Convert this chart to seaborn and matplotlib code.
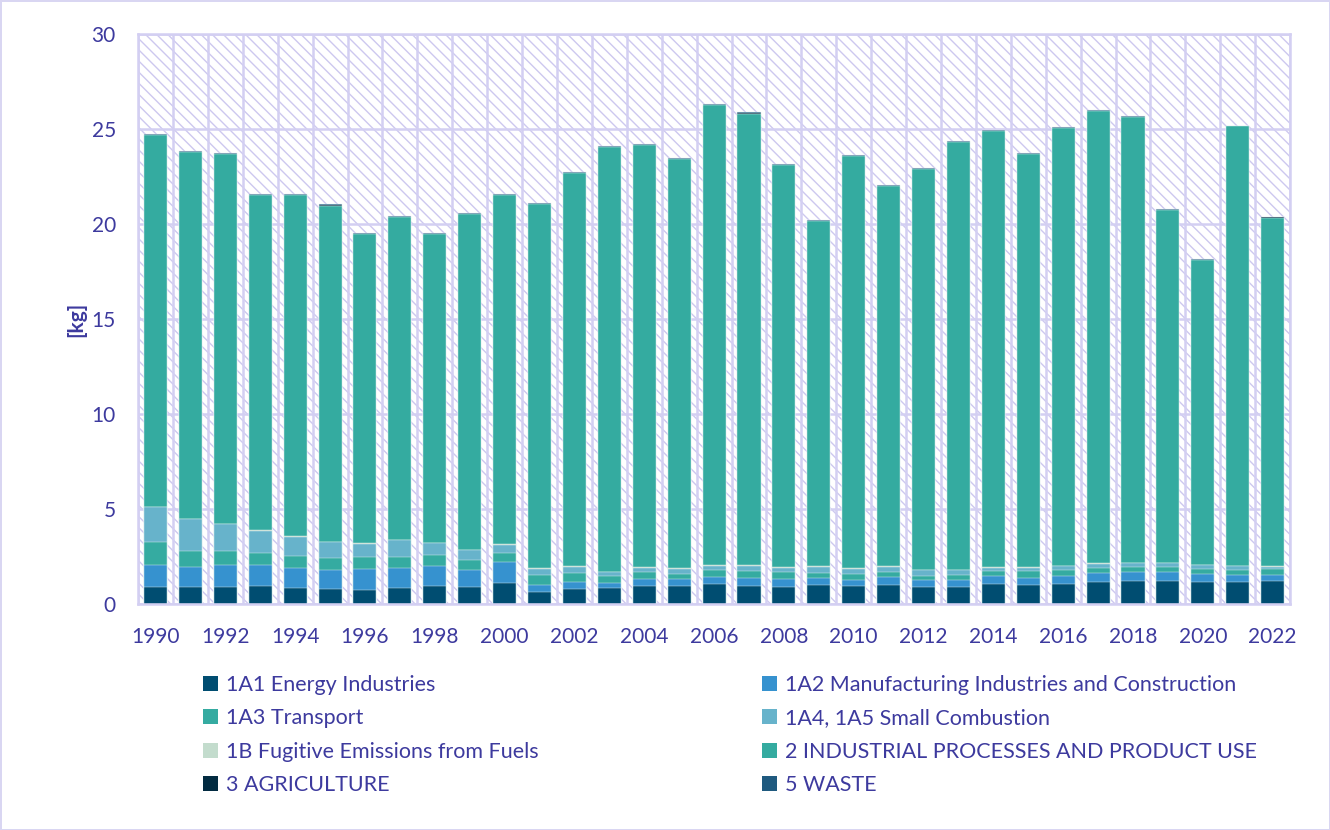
import numpy as np
import pandas as pd
import matplotlib
matplotlib.use("Agg")
import matplotlib.pyplot as plt
from matplotlib.patches import Patch, Rectangle
import seaborn as sns

# years on the x axis
years = list(range(1990, 2023))

# emissions per sector [kg]
e_1a1 = [0.91, 0.91, 0.91, 0.96, 0.86, 0.80, 0.77, 0.86, 0.96, 0.92, 1.12,
         0.66, 0.82, 0.86, 0.96, 0.96, 1.06, 0.96, 0.91, 1.01, 0.96, 1.01,
         0.91, 0.91, 1.06, 1.01, 1.10, 1.17, 1.24, 1.22, 1.19, 1.17, 1.22]
e_1a2 = [1.17, 1.06, 1.15, 1.10, 1.06, 1.01, 1.08, 1.06, 1.06, 0.92, 1.12,
         0.38, 0.37, 0.28, 0.37, 0.37, 0.40, 0.42, 0.45, 0.37, 0.33, 0.44,
         0.37, 0.37, 0.42, 0.40, 0.40, 0.47, 0.45, 0.47, 0.44, 0.37, 0.35]
e_1a3 = [1.20, 0.87, 0.75, 0.63, 0.61, 0.66, 0.63, 0.56, 0.56, 0.51, 0.49,
         0.49, 0.47, 0.38, 0.37, 0.30, 0.35, 0.37, 0.33, 0.26, 0.30, 0.24,
         0.21, 0.26, 0.26, 0.33, 0.31, 0.28, 0.26, 0.26, 0.24, 0.30, 0.28]
e_1a4 = [1.85, 1.66, 1.43, 1.19, 1.03, 0.82, 0.72, 0.91, 0.66, 0.52, 0.42,
         0.35, 0.33, 0.19, 0.24, 0.26, 0.23, 0.30, 0.24, 0.35, 0.30, 0.30,
         0.30, 0.28, 0.19, 0.19, 0.21, 0.23, 0.21, 0.21, 0.19, 0.16, 0.14]
e_1b = [0.02, 0.02, 0.02, 0.02, 0.02, 0.02, 0.02, 0.02, 0.02, 0.02, 0.02,
        0.02, 0.02, 0.02, 0.02, 0.02, 0.02, 0.02, 0.02, 0.02, 0.02, 0.02,
        0.02, 0.02, 0.02, 0.02, 0.02, 0.02, 0.02, 0.02, 0.02, 0.02, 0.02]
e_2 = [19.53, 19.28, 19.45, 17.65, 17.96, 17.68, 16.25, 16.99, 16.24, 17.66, 18.35,
       19.18, 20.68, 22.35, 22.21, 21.52, 24.23, 23.76, 21.18, 18.16, 21.68, 20.00,
       21.08, 22.47, 22.95, 21.74, 23.04, 23.77, 23.48, 18.57, 16.06, 23.13, 18.35]
e_3 = [0.01, 0.01, 0.01, 0.01, 0.01, 0.01, 0.01, 0.01, 0.01, 0.01, 0.01,
       0.01, 0.01, 0.01, 0.01, 0.01, 0.01, 0.01, 0.01, 0.01, 0.01, 0.01,
       0.01, 0.01, 0.01, 0.01, 0.01, 0.01, 0.01, 0.01, 0.01, 0.01, 0.01]
e_5 = [0.05, 0.05, 0.05, 0.05, 0.05, 0.05, 0.05, 0.05, 0.05, 0.05, 0.05,
       0.05, 0.05, 0.05, 0.05, 0.05, 0.05, 0.05, 0.05, 0.04, 0.04, 0.04,
       0.04, 0.04, 0.04, 0.04, 0.04, 0.04, 0.04, 0.04, 0.04, 0.04, 0.04]

labels = ["1A1 Energy Industries", "1A2 Manufacturing Industries and Construction",
          "1A3 Transport", "1A4, 1A5 Small Combustion",
          "1B Fugitive Emissions from Fuels", "2 INDUSTRIAL PROCESSES AND PRODUCT USE",
          "3 AGRICULTURE", "5 WASTE"]
series = [e_1a1, e_1a2, e_1a3, e_1a4, e_1b, e_2, e_3, e_5]
colors = ["#004d71", "#3692cf", "#35aba1", "#67b3cb",
          "#c3dccd", "#34aba0", "#022b41", "#1f5a7f"]

txt = "#3d3a9e"
grid_c = "#d3cff2"

sns.set_theme(style="white")
plt.rcParams["font.family"] = ["Lato", "DejaVu Sans"]
plt.rcParams["hatch.linewidth"] = 1.0

df = pd.DataFrame({"year": [str(y) for y in years]})
for lab, s in zip(labels, series):
    df[lab] = s

fig = plt.figure(figsize=(13.3, 8.3), dpi=100)
fig.patch.set_edgecolor("#d9d6f2")
fig.patch.set_linewidth(2)
ax = fig.add_axes([0.1038, 0.2717, 0.8662, 0.6870])

# hatched background of the plot area
ax.add_patch(Rectangle((0, 0), 1, 1, transform=ax.transAxes, facecolor="white",
                       edgecolor="#cdc8ef", hatch="\\\\\\", linewidth=0, zorder=0))

# stacked bars: draw cumulative totals from the top layer down
cum = df[labels].cumsum(axis=1)
for i in range(len(labels) - 1, -1, -1):
    sns.barplot(x=df["year"], y=cum[labels[i]], color=colors[i], width=0.66,
                saturation=1, edgecolor="#e8f4f4", linewidth=0.3, ax=ax, zorder=2)

ax.set_xlim(-0.5, len(years) - 0.5)
ax.set_ylim(0, 30)
ax.set_yticks(np.arange(0, 31, 5))
ax.set_xticks(range(0, len(years), 2))
ax.set_xticklabels([str(y) for y in years[::2]])
ax.set_xticks(np.arange(-0.5, len(years), 1), minor=True)

ax.set_axisbelow(True)
ax.grid(axis="y", which="major", color=grid_c, linewidth=1.8)
ax.grid(axis="x", which="minor", color=grid_c, linewidth=1.8)
ax.grid(axis="x", which="major", visible=False)

for sp in ax.spines.values():
    sp.set_color(grid_c)
    sp.set_linewidth(1.8)

ax.tick_params(axis="both", which="both", length=0, labelsize=15, labelcolor=txt)
ax.tick_params(axis="x", pad=16)
ax.tick_params(axis="y", pad=16)
ax.set_xlabel("")
ax.set_ylabel("[kg]", fontsize=15, fontweight="bold", color=txt, labelpad=4)

# legend filled row by row like the original
order = [0, 2, 4, 6, 1, 3, 5, 7]
handles = [Patch(facecolor=colors[i], edgecolor="none") for i in order]
fig.legend(handles, [labels[i] for i in order], loc="upper left",
           bbox_to_anchor=(0.138, 0.210), ncol=2, frameon=False, fontsize=15.5,
           labelcolor=txt, handlelength=0.7, handleheight=0.7, handletextpad=0.35,
           labelspacing=0.62, columnspacing=10.4)

fig.savefig("out.png", dpi=100)
